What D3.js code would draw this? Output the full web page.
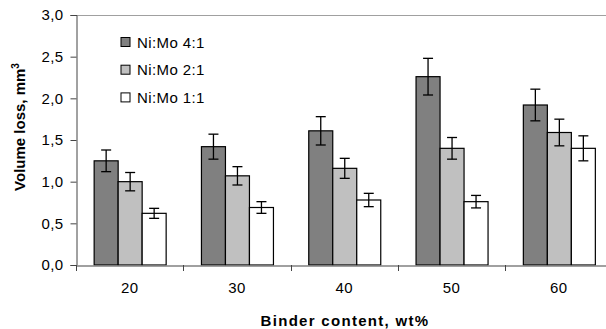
<!DOCTYPE html>
<html>
<head>
<meta charset="utf-8">
<script src="https://cdn.jsdelivr.net/npm/d3@7"></script>
<style>
  body { margin: 0; background: #fff; }
  svg { display: block; font-family: "Liberation Sans", Arial, sans-serif; }
</style>
</head>
<body>
<svg width="606" height="329"></svg>
<script>
// data
var categories = ["20", "30", "40", "50", "60"];
var seriesNames = ["Ni:Mo 4:1", "Ni:Mo 2:1", "Ni:Mo 1:1"];
var ratio41 = [1.25, 1.42, 1.61, 2.26, 1.92];
var ratio21 = [1.00, 1.07, 1.16, 1.40, 1.59];
var ratio11 = [0.62, 0.69, 0.78, 0.76, 1.40];
var err41 = [0.13, 0.15, 0.17, 0.22, 0.19];
var err21 = [0.11, 0.11, 0.12, 0.13, 0.16];
var err11 = [0.06, 0.07, 0.08, 0.075, 0.15];
var yTicks = [0, 0.5, 1, 1.5, 2, 2.5, 3];

var colors = ["#808080", "#c0c0c0", "#ffffff"];
var values = [ratio41, ratio21, ratio11];
var errors = [err41, err21, err11];

var svg = d3.select("svg"),
    plotL = 76, plotT = 15, plotR = 612.5, plotB = 265;

var x = d3.scaleBand().domain(categories).range([plotL, plotR]);
var xs = d3.scaleBand().domain(d3.range(3)).range([0, 72]);
var y = d3.scaleLinear().domain([0, 3]).range([plotB, plotT]);

// top border
svg.append("line")
  .attr("x1", plotL).attr("x2", 606).attr("y1", plotT + 0.5).attr("y2", plotT + 0.5)
  .attr("stroke", "#a0a0a0").attr("stroke-width", 1);

// bars
var rows = [];
categories.forEach(function (c, i) {
  for (var s = 0; s < 3; s++) rows.push({ cat: c, s: s, v: values[s][i], e: errors[s][i] });
});

var groupOff = function (c) { return x(c) + x.bandwidth() / 2 - 36; };

var bar = svg.append("g").selectAll("g").data(rows).enter().append("g");

bar.append("rect")
  .attr("x", d => groupOff(d.cat) + xs(d.s) + 0.5)
  .attr("y", d => y(d.v))
  .attr("width", xs.bandwidth())
  .attr("height", d => y(0) - y(d.v))
  .attr("fill", d => colors[d.s])
  .attr("stroke", "#000")
  .attr("stroke-width", 1.2);

// error bars
bar.each(function (d) {
  var g = d3.select(this),
      cx = groupOff(d.cat) + xs(d.s) + xs.bandwidth() / 2 + 0.5;
  g.append("line").attr("x1", cx).attr("x2", cx)
    .attr("y1", y(d.v + d.e)).attr("y2", y(d.v - d.e));
  g.append("line").attr("x1", cx - 5).attr("x2", cx + 5)
    .attr("y1", y(d.v + d.e)).attr("y2", y(d.v + d.e));
  g.append("line").attr("x1", cx - 5).attr("x2", cx + 5)
    .attr("y1", y(d.v - d.e)).attr("y2", y(d.v - d.e));
  g.selectAll("line").attr("stroke", "#000").attr("stroke-width", 1.3);
});

// y axis
var yAxis = svg.append("g")
  .attr("transform", "translate(" + (plotL + 0.5) + ",0)")
  .call(d3.axisLeft(y).tickValues(yTicks).tickSize(6).tickPadding(7)
    .tickFormat(d => d3.format(".1f")(d).replace(".", ",")));
yAxis.select(".domain").attr("stroke", "#444");
yAxis.selectAll(".tick line").attr("stroke", "#444");
yAxis.selectAll("text").attr("font-size", 15).attr("fill", "#000")
  .attr("letter-spacing", 0.4)
  .attr("font-family", "'Liberation Sans', Arial, sans-serif");

// x axis
var xAxis = svg.append("g")
  .attr("transform", "translate(0," + (plotB + 0.5) + ")")
  .call(d3.axisBottom(x).tickSize(0).tickPadding(17));
xAxis.select(".domain").attr("stroke", "#808080").attr("stroke-width", 1.3);
xAxis.selectAll("text").attr("font-size", 15).attr("fill", "#000")
  .attr("letter-spacing", 0.4)
  .attr("font-family", "'Liberation Sans', Arial, sans-serif");

// category separator ticks
svg.append("g").selectAll("line")
  .data(categories.concat(["end"]))
  .enter().append("line")
  .attr("x1", (d, i) => Math.round(plotL + i * x.step()) + 0.5)
  .attr("x2", (d, i) => Math.round(plotL + i * x.step()) + 0.5)
  .attr("y1", plotB).attr("y2", plotB + 6)
  .attr("stroke", "#444");

// axis titles
svg.append("text")
  .attr("transform", "translate(25,127) rotate(-90)")
  .attr("text-anchor", "middle")
  .attr("font-size", 15).attr("font-weight", "bold")
  .text("Volume loss, mm")
  .append("tspan").attr("font-size", 10).attr("dy", -6).text("3");

svg.append("text")
  .attr("x", 345).attr("y", 326)
  .attr("text-anchor", "middle")
  .attr("font-size", 15).attr("font-weight", "bold")
  .attr("letter-spacing", 1.3)
  .text("Binder content, wt%");

// legend
var legend = svg.append("g").selectAll("g").data(seriesNames).enter().append("g")
  .attr("transform", (d, i) => "translate(121," + (37.5 + i * 27.7) + ")");
legend.append("rect")
  .attr("width", 9).attr("height", 9)
  .attr("fill", (d, i) => colors[i])
  .attr("stroke", "#000").attr("stroke-width", 1);
legend.append("text")
  .attr("x", 16).attr("y", 10)
  .attr("font-size", 15)
  .attr("letter-spacing", 0.4)
  .text(d => d);
</script>
</body>
</html>
